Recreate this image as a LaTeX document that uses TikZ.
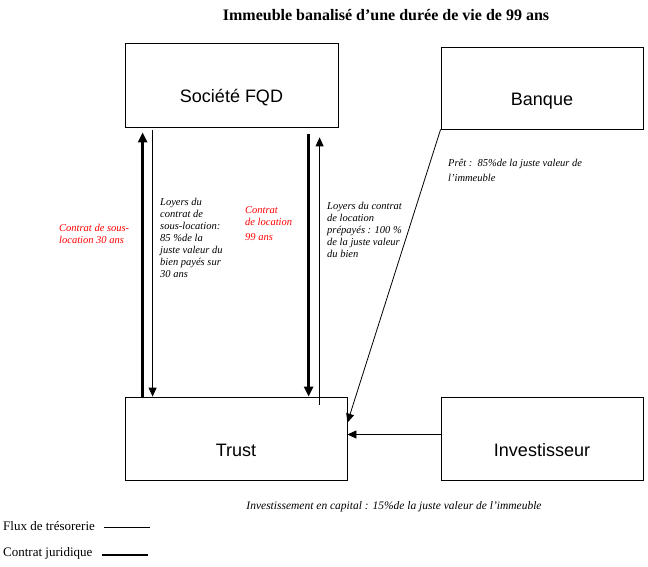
\documentclass[tikz,border=0pt]{standalone}
\usepackage{fontspec}
\setmainfont{Liberation Serif}
\newfontfamily\arialfont{Liberation Sans}
\usetikzlibrary{arrows.meta}

\begin{document}
\begin{tikzpicture}[x=1pt,y=-1pt]
\tikzset{party/.style = {shape=rectangle,draw,line width=0.8pt,inner sep=0pt,text height=36pt,text depth=0pt,font=\arialfont\fontsize{18}{20}\selectfont}}
\tikzset{flux/.style = {line width=0.8pt,-{Triangle[length=9pt,width=8pt]}}}
\tikzset{contrat/.style = {line width=2.6pt,-{Triangle[length=10pt,width=9pt]}}}
\tikzset{note/.style = {anchor=north west,inner sep=0pt,align=left,font=\itshape\fontsize{10.5}{12}\selectfont}}
\useasboundingbox (0,0) rectangle (648,567);
% title
\node[font=\bfseries\fontsize{16}{18}\selectfont] (title) at (386,15) {Immeuble banalisé d’une durée de vie de 99 ans};
% vertices
\node[party,minimum width=213pt,minimum height=84pt] (fqd) at (231.5,85) {Société FQD};
\node[party,minimum width=202pt,minimum height=82pt] (banque) at (542,88) {Banque};
\node[party,minimum width=222pt,minimum height=83pt] (trust) at (236,438.5) {Trust};
\node[party,minimum width=202pt,minimum height=83pt] (inv) at (542,438.5) {Investisseur};
%edges
\draw[contrat] ([xshift=18pt]trust.north west) -- ([xshift=18pt,yshift=-5pt]fqd.south west);
\draw[flux] ([xshift=28pt,yshift=-3pt]fqd.south west) -- ([xshift=28pt]trust.north west);
\draw[contrat] ([xshift=184pt,yshift=-7pt]fqd.south west) -- ([xshift=184pt]trust.north west);
\draw[flux] ([xshift=195pt,yshift=-8pt]trust.north west) -- ([xshift=195pt,yshift=-10pt]fqd.south west);
\draw[flux] (banque.south west) -- ([yshift=-26pt]trust.north east);
\draw[flux] ([yshift=4pt]inv.west) -- ([yshift=4pt]trust.east);
% labels
\node[note,text=red] (souslbl) at (59,224) {Contrat de sous-\\location 30 ans};
\node[note] (loyersous) at (160,198) {Loyers du\\contrat de\\sous-location:\\85 \%de la\\juste valeur du\\bien payés sur\\30 ans};
\node[note,text=red] (loclbl) at (245,206) {Contrat\\de location\\[3pt]99 ans};
\node[note] (loyerloc) at (327,202) {Loyers du contrat\\de location\\prépayés : 100 \%\\de la juste valeur\\du bien};
\node[note,font=\itshape\fontsize{10.5}{15}\selectfont] (pret) at (448,159) {Prêt :~~85\%de la juste valeur de\\l’immeuble};
\node[note,anchor=center,font=\itshape\fontsize{11.5}{13}\selectfont] (capital) at (394,507) {Investissement en capital : 15\%de la juste valeur de l’immeuble};
% legend
\node[anchor=west,inner sep=0pt,font=\fontsize{13}{15}\selectfont] (fluxlbl) at (3,526) {Flux de trésorerie};
\node[anchor=west,inner sep=0pt,font=\fontsize{13}{15}\selectfont] (contratlbl) at (3,553) {Contrat juridique};
\coordinate (f1) at (104,527);
\coordinate (f2) at (150,527);
\coordinate (c1) at (102,555);
\coordinate (c2) at (148,555);
\draw[line width=0.8pt] (f1) -- (f2);
\draw[line width=2.6pt] (c1) -- (c2);
\end{tikzpicture}
\end{document}
